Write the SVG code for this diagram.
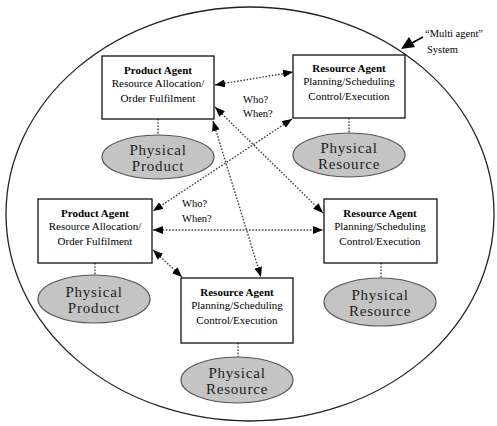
<svg xmlns="http://www.w3.org/2000/svg" width="497" height="426" viewBox="0 0 497 426">
  <style>
    .agent { fill: #ffffff; stroke: #111; stroke-width: 1.3; }
    .phys { fill: #c4c4c4; stroke: #555; stroke-width: 1.2; }
    .title { font-family: "Liberation Serif", "Times New Roman", serif; font-size: 11px; font-weight: bold; fill: #000; text-anchor: middle; }
    .sub { font-family: "Liberation Serif", "Times New Roman", serif; font-size: 11px; fill: #000; text-anchor: middle; }
    .plabel { font-family: "Liberation Serif", "Times New Roman", serif; font-size: 15px; letter-spacing: 0.8px; fill: #222; text-anchor: middle; }
    .note { font-family: "Liberation Serif", "Times New Roman", serif; font-size: 10.5px; fill: #000; }
    .link { fill: none; stroke: #444; stroke-width: 1.4; stroke-dasharray: 1.6 1.6; marker-start: url(#head); marker-end: url(#head); }
    .tie { fill: none; stroke: #444; stroke-width: 1.4; stroke-dasharray: 1.6 1.6; }
  </style>
  <defs>
    <marker id="head" viewBox="0 0 10 8" refX="10" refY="4" markerWidth="10" markerHeight="8" markerUnits="userSpaceOnUse" orient="auto-start-reverse">
      <path d="M0,0 L10,4 L0,8 z" fill="#000"/>
    </marker>
  </defs>

  <rect width="497" height="426" fill="#ffffff"/>

  <!-- system boundary -->
  <g id="system">
    <ellipse cx="250" cy="214" rx="244" ry="207" fill="none" stroke="#222" stroke-width="1.3"/>
    <line x1="423" y1="37" x2="410" y2="44" stroke="#000" stroke-width="1.5"/>
    <polygon points="401,49 409,37 415,47" fill="#000"/>
    <text class="note" x="425" y="37">“Multi agent”</text>
    <text class="note" x="427" y="53">System</text>
  </g>

  <!-- connectors -->
  <g id="connectors">
    <line class="link" x1="215" y1="85" x2="293" y2="72"/>
    <line class="link" x1="215" y1="107" x2="323" y2="213"/>
    <line class="link" x1="213" y1="121" x2="261" y2="277"/>
    <line class="link" x1="292" y1="119" x2="153" y2="211"/>
    <line class="link" x1="153" y1="230" x2="323" y2="230"/>
    <line class="link" x1="153" y1="250" x2="182" y2="277"/>
    <line class="tie" x1="158" y1="119" x2="158" y2="135"/>
    <line class="tie" x1="349" y1="118" x2="349" y2="133"/>
    <line class="tie" x1="95" y1="263" x2="95" y2="275"/>
    <line class="tie" x1="381" y1="263" x2="381" y2="278"/>
    <line class="tie" x1="238" y1="343" x2="238" y2="357"/>
    <text class="note" x="243" y="103">Who?</text>
    <text class="note" x="243" y="117">When?</text>
    <text class="note" x="182" y="207">Who?</text>
    <text class="note" x="182" y="222">When?</text>
  </g>

  <!-- product agent (top) -->
  <g id="product-agent-1">
    <rect class="agent" x="102" y="56" width="112" height="63"/>
    <text class="title" x="158" y="74">Product Agent</text>
    <text class="sub" x="158" y="87">Resource Allocation/</text>
    <text class="sub" x="158" y="102">Order Fulfilment</text>
  </g>
  <g id="physical-product-1">
    <ellipse class="phys" cx="158" cy="157" rx="56" ry="22"/>
    <text class="plabel" x="158" y="155">Physical</text>
    <text class="plabel" x="158" y="171">Product</text>
  </g>

  <!-- resource agent (top right) -->
  <g id="resource-agent-1">
    <rect class="agent" x="293" y="55" width="112" height="63"/>
    <text class="title" x="349" y="72">Resource Agent</text>
    <text class="sub" x="349" y="85">Planning/Scheduling</text>
    <text class="sub" x="349" y="100">Control/Execution</text>
  </g>
  <g id="physical-resource-1">
    <ellipse class="phys" cx="349" cy="155" rx="56" ry="22"/>
    <text class="plabel" x="349" y="153">Physical</text>
    <text class="plabel" x="349" y="169">Resource</text>
  </g>

  <!-- product agent (middle left) -->
  <g id="product-agent-2">
    <rect class="agent" x="38" y="199" width="114" height="64"/>
    <text class="title" x="95" y="217">Product Agent</text>
    <text class="sub" x="95" y="230">Resource Allocation/</text>
    <text class="sub" x="95" y="245">Order Fulfilment</text>
  </g>
  <g id="physical-product-2">
    <ellipse class="phys" cx="94" cy="299" rx="56" ry="24"/>
    <text class="plabel" x="94" y="297">Physical</text>
    <text class="plabel" x="94" y="313">Product</text>
  </g>

  <!-- resource agent (middle right) -->
  <g id="resource-agent-2">
    <rect class="agent" x="324" y="199" width="113" height="64"/>
    <text class="title" x="380" y="217">Resource Agent</text>
    <text class="sub" x="380" y="230">Planning/Scheduling</text>
    <text class="sub" x="380" y="245">Control/Execution</text>
  </g>
  <g id="physical-resource-2">
    <ellipse class="phys" cx="380" cy="302" rx="56" ry="24"/>
    <text class="plabel" x="380" y="300">Physical</text>
    <text class="plabel" x="380" y="316">Resource</text>
  </g>

  <!-- resource agent (bottom centre) -->
  <g id="resource-agent-3">
    <rect class="agent" x="181" y="278" width="112" height="65"/>
    <text class="title" x="237" y="296">Resource Agent</text>
    <text class="sub" x="237" y="309">Planning/Scheduling</text>
    <text class="sub" x="237" y="324">Control/Execution</text>
  </g>
  <g id="physical-resource-3">
    <ellipse class="phys" cx="237" cy="380" rx="56" ry="23"/>
    <text class="plabel" x="237" y="378">Physical</text>
    <text class="plabel" x="237" y="394">Resource</text>
  </g>
</svg>
